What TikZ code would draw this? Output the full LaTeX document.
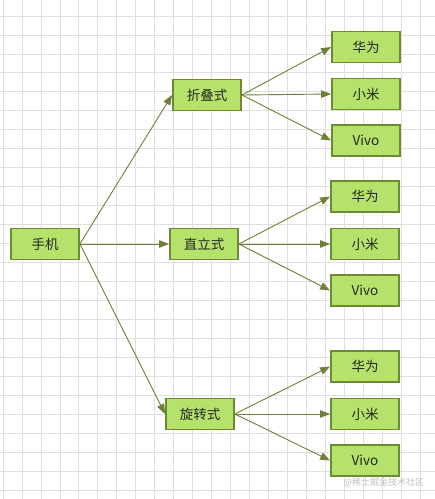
\documentclass[tikz,border=0pt]{standalone}
\usepackage{fontspec}
\setmainfont{Noto Sans CJK SC}
\usetikzlibrary{arrows.meta}
\definecolor{nodefill}{HTML}{B5E26A}
\definecolor{nodeedge}{HTML}{6E8B32}
\definecolor{linecol}{HTML}{6F7F3A}
\definecolor{gridcol}{HTML}{DEDEDE}
\tikzset{
  box/.style={draw=nodeedge, fill=nodefill, line width=1.8pt, minimum width=68pt, minimum height=31pt, inner sep=0pt, text=black!85, font=\fontsize{13.5}{15}\selectfont},
  conn/.style={draw=linecol, line width=0.9pt, -{Triangle[length=10pt,width=7.5pt]}}
}
\begin{document}
\begin{tikzpicture}[x=1pt,y=-1pt]
\useasboundingbox (0,0) rectangle (435,499);
\fill[white] (0,0) rectangle (435,499);
% grid
\foreach \i in {0,...,22} {
  \draw[gridcol, line width=0.8pt] ({22+18.96*\i},0) -- ({22+18.96*\i},499);
}
\draw[gridcol, line width=0.8pt] (3,0) -- (3,499);
\foreach \j in {0,...,25} {
  \draw[gridcol, line width=0.8pt] (0,{16+18.96*\j}) -- (435,{16+18.96*\j});
}
% nodes
\node[box] (phone) at (45,244) {手机};
\node[box] (fold) at (207,95) {折叠式};
\node[box] (bar) at (204,244) {直立式};
\node[box] (rot) at (200,414) {旋转式};
\node[box] (f1) at (366,47) {华为};
\node[box] (f2) at (366,94) {小米};
\node[box] (f3) at (366,140.5) {Vivo};
\node[box] (b1) at (365,196.5) {华为};
\node[box] (b2) at (365,244) {小米};
\node[box] (b3) at (365,290.5) {Vivo};
\node[box] (r1) at (365,366.5) {华为};
\node[box] (r2) at (365,414) {小米};
\node[box] (r3) at (365,460.5) {Vivo};
% connectors
\draw[conn] (phone.east) -- (fold.west);
\draw[conn] (phone.east) -- (bar.west);
\draw[conn] (phone.east) -- (rot.west);
\draw[conn] (fold.east) -- (f1.west);
\draw[conn] (fold.east) -- (f2.west);
\draw[conn] (fold.east) -- (f3.west);
\draw[conn] (bar.east) -- (b1.west);
\draw[conn] (bar.east) -- (b2.west);
\draw[conn] (bar.east) -- (b3.west);
\draw[conn] (rot.east) -- (r1.west);
\draw[conn] (rot.east) -- (r2.west);
\draw[conn] (rot.east) -- (r3.west);
% watermark
\node[text=black!25, font=\fontsize{9}{10}\selectfont, anchor=west] (wm) at (340,482) {@稀土掘金技术社区};
\end{tikzpicture}
\end{document}
